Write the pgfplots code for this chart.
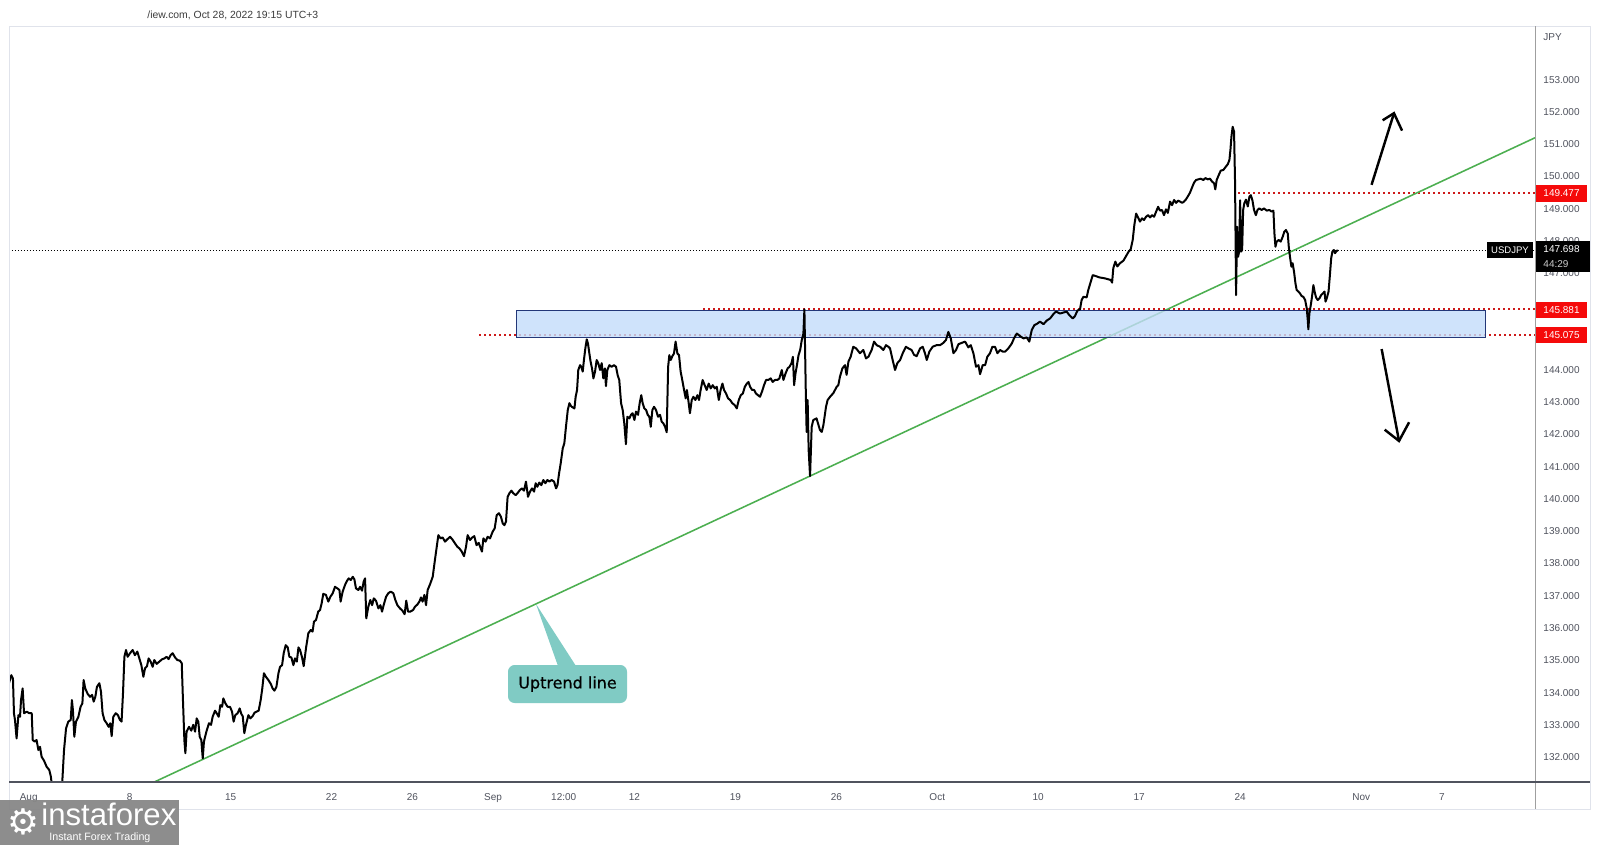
\documentclass[border=0pt]{standalone}
\usepackage{fontspec}
\setmainfont{Liberation Sans}
\newfontfamily\dejavu{DejaVu Sans}
\newfontfamily\dejavusemi{DejaVu Sans}[FakeBold=0.6]
\usepackage{pgfplots}
\pgfplotsset{compat=1.18}
\definecolor{tvgray}{RGB}{80,83,94}
\definecolor{framegray}{RGB}{224,227,235}
\definecolor{zoneblue}{RGB}{196,220,250}
\definecolor{zoneborder}{RGB}{35,55,120}
\definecolor{lvlred}{RGB}{205,25,25}
\definecolor{tagred}{RGB}{245,10,10}
\definecolor{trendgreen}{RGB}{76,175,80}
\definecolor{callout}{RGB}{128,203,196}
\definecolor{logogray}{RGB}{135,135,135}
\definecolor{toptext}{RGB}{60,60,60}
\begin{document}
\begin{tikzpicture}
\begin{scope}[x=0.45pt,y=-0.45pt]
\path[use as bounding box, fill=white] (0,0) rectangle (1600,845);
\end{scope}
\begin{axis}[
  at={(4.05pt,-351.9pt)}, anchor=south west,
  scale only axis, width=686.7pt, height=340.2pt,
  xmin=-0.9757, xmax=74.606, ymin=131.228, ymax=154.663,
  axis line style={draw=none},
  major tick length=0pt,
  scaled y ticks=false,
  ytick={132,133,134,135,136,137,138,139,140,141,142,143,144,147,148,149,150,151,152,153},
  ytick pos=right, yticklabel pos=right,
  y tick label style={anchor=west, inner sep=0pt, xshift=3.6pt, font=\fontsize{4.5}{5}\selectfont, text=tvgray,
     /pgf/number format/.cd, fixed, fixed zerofill, precision=3, 1000 sep={}, assume math mode=true, /tikz/.cd},
  xtick={0,5,10,15,19,23,26.5,30,35,40,45,50,55,60,66,70},
  xticklabels={Aug,8,15,22,26,Sep,12:00,12,19,26,Oct,10,17,24,Nov,7},
  x tick label style={anchor=base, inner sep=0pt, yshift=-8.1pt, font=\fontsize{4.5}{5}\selectfont, text=tvgray},
  clip=true,
]
% last price dotted line
\addplot[black, line width=0.45pt, dash pattern=on 0.45pt off 0.9pt] coordinates {(-0.98,147.698) (74.61,147.698)};
% red dotted levels
\addplot[lvlred, line width=0.9pt, dash pattern=on 0.9pt off 1.35pt] coordinates {(59.91,149.477) (74.61,149.477)};
\addplot[lvlred, line width=0.9pt, dash pattern=on 0.9pt off 1.35pt] coordinates {(33.41,145.881) (74.61,145.881)};
\addplot[lvlred, line width=0.9pt, dash pattern=on 0.9pt off 1.35pt] coordinates {(22.32,145.075) (74.61,145.075)};
% uptrend line
\addplot[trendgreen, line width=0.7pt] coordinates {(6.22,131.228) (74.61,151.20)};
% zone
\addplot[draw=zoneborder, line width=0.45pt, fill=zoneblue, fill opacity=0.8] coordinates {(24.14,145.0) (72.13,145.0) (72.13,145.85) (24.14,145.85)} -- cycle;
% price
\addplot[black, line width=0.9pt, line join=round] coordinates {
(-0.98,134.29) (-0.86,134.54) (-0.78,134.44) (-0.73,133.36) (-0.68,133.15) (-0.60,132.58) (-0.51,133.30) (-0.43,133.25) (-0.38,133.77) (-0.30,134.13) (-0.23,133.36) (-0.10,133.41) (0.03,133.36) (0.15,133.36) (0.20,132.53) (0.30,132.48) (0.39,132.53) (0.48,132.22) (0.56,132.32) (0.64,132.01) (0.76,131.89) (0.89,131.70) (1.02,131.60) (1.10,131.39) (1.19,130.87) (1.40,130.45) (1.66,131.20) (1.75,132.22) (1.85,132.89) (1.96,133.10) (2.08,133.15) (2.14,133.77) (2.19,133.46) (2.26,132.63) (2.34,133.10) (2.46,133.25) (2.57,133.56) (2.66,133.67) (2.72,134.39) (2.80,134.13) (2.92,133.96) (3.04,133.87) (3.14,133.93) (3.22,133.72) (3.30,133.87) (3.38,134.18) (3.50,134.29) (3.58,134.03) (3.66,133.36) (3.75,133.15) (3.86,133.05) (3.96,132.94) (4.04,133.05) (4.11,132.65) (4.19,133.25) (4.31,133.36) (4.42,133.30) (4.52,133.15) (4.60,133.10) (4.67,133.97) (4.74,135.11) (4.82,135.32) (4.90,135.11) (5.02,135.22) (5.15,135.32) (5.26,135.16) (5.38,135.27) (5.48,135.06) (5.58,134.85) (5.68,134.49) (5.76,134.75) (5.86,134.82) (5.94,135.06) (6.04,134.96) (6.14,134.80) (6.22,135.01) (6.34,134.89) (6.47,134.96) (6.60,135.03) (6.72,135.06) (6.83,135.11) (6.93,135.04) (7.03,135.16) (7.13,135.22) (7.25,135.09) (7.36,135.01) (7.49,134.99) (7.58,134.91) (7.64,133.77) (7.71,132.53) (7.76,132.12) (7.82,132.79) (7.94,132.94) (8.05,132.82) (8.15,133.00) (8.24,132.79) (8.32,133.20) (8.40,133.10) (8.47,132.63) (8.55,132.53) (8.62,131.96) (8.68,132.48) (8.80,132.79) (8.93,133.05) (9.03,133.00) (9.11,133.25) (9.23,133.44) (9.33,133.34) (9.41,133.25) (9.49,133.61) (9.58,133.56) (9.64,133.82) (9.74,133.67) (9.85,133.56) (9.97,133.56) (10.07,133.41) (10.15,133.10) (10.23,133.30) (10.35,133.36) (10.45,133.51) (10.53,133.34) (10.60,133.27) (10.68,132.74) (10.76,133.00) (10.88,133.30) (10.98,133.20) (11.09,133.27) (11.19,133.38) (11.29,133.41) (11.39,133.44) (11.49,133.77) (11.57,134.13) (11.65,134.60) (11.75,134.49) (11.87,134.39) (11.99,134.27) (12.08,134.13) (12.17,134.06) (12.27,134.18) (12.37,134.60) (12.45,134.80) (12.55,134.85) (12.63,135.22) (12.73,135.47) (12.83,135.40) (12.91,135.11) (13.01,135.09) (13.11,134.85) (13.19,135.06) (13.28,134.96) (13.36,135.40) (13.44,135.32) (13.54,135.09) (13.62,134.82) (13.74,135.40) (13.85,135.84) (13.97,135.94) (14.06,135.89) (14.13,136.20) (14.23,136.25) (14.34,136.51) (14.43,136.56) (14.51,136.77) (14.59,137.06) (14.72,137.03) (14.84,136.82) (14.94,136.97) (15.06,137.08) (15.17,137.28) (15.29,137.23) (15.39,137.18) (15.45,136.82) (15.55,137.13) (15.67,137.34) (15.77,137.47) (15.85,137.54) (15.95,137.49) (16.05,137.59) (16.13,137.51) (16.21,137.23) (16.33,137.18) (16.41,137.28) (16.51,137.16) (16.59,137.44) (16.66,137.54) (16.72,136.30) (16.82,136.66) (16.92,136.87) (17.01,136.71) (17.09,136.92) (17.20,136.85) (17.32,136.61) (17.42,136.71) (17.50,136.51) (17.58,136.71) (17.70,136.97) (17.81,137.08) (17.93,137.13) (18.06,137.08) (18.16,136.87) (18.26,136.71) (18.39,136.61) (18.51,136.54) (18.62,136.43) (18.70,136.85) (18.79,136.51) (18.90,136.51) (19.04,136.56) (19.13,136.66) (19.25,136.73) (19.35,136.82) (19.43,136.95) (19.51,136.82) (19.60,137.03) (19.68,136.71) (19.76,137.18) (19.88,137.36) (20.01,137.59) (20.12,138.11) (20.21,138.52)
(20.29,138.88) (20.40,138.78) (20.50,138.81) (20.62,138.68) (20.73,138.75) (20.87,138.83) (20.98,138.75) (21.11,138.63) (21.23,138.52) (21.33,138.47) (21.45,138.37) (21.56,138.23) (21.66,138.52) (21.74,138.88) (21.86,138.73) (21.97,138.81) (22.07,138.85) (22.18,138.57) (22.29,138.64) (22.39,138.47) (22.45,138.37) (22.52,138.78) (22.63,138.68) (22.73,138.83) (22.85,138.78) (22.98,138.99) (23.08,139.09) (23.18,139.50) (23.29,139.56) (23.39,139.45) (23.48,139.24) (23.56,139.19) (23.64,139.30) (23.72,140.07) (23.81,140.18) (23.91,140.26) (24.00,140.18) (24.12,140.12) (24.22,140.19) (24.33,140.28) (24.43,140.33) (24.53,140.26) (24.63,140.54) (24.73,140.07) (24.83,140.23) (24.93,140.33) (25.03,140.23) (25.11,140.49) (25.19,140.38) (25.29,140.51) (25.39,140.43) (25.49,140.59) (25.59,140.49) (25.69,140.59) (25.79,140.54) (25.90,140.59) (26.02,140.54) (26.12,140.33) (26.19,140.43) (26.27,140.80) (26.35,141.11) (26.45,141.57) (26.53,141.73) (26.61,142.24) (26.70,142.76) (26.78,142.97) (26.86,142.88) (26.94,142.84) (27.03,142.81) (27.09,143.17) (27.16,143.38) (27.22,144.00) (27.31,144.15) (27.37,144.10) (27.44,143.95) (27.50,144.31) (27.57,144.67) (27.64,144.95) (27.70,144.82) (27.77,144.51) (27.83,144.26) (27.90,144.05) (27.97,143.74) (28.05,143.95) (28.13,144.31) (28.21,144.21) (28.30,144.00) (28.38,144.21) (28.46,143.74) (28.54,144.05) (28.59,143.50) (28.66,144.00) (28.76,144.15) (28.87,144.10) (28.99,144.15) (29.09,144.10) (29.17,143.84) (29.25,143.69) (29.34,142.97) (29.42,142.76) (29.50,142.34) (29.58,141.70) (29.65,142.55) (29.75,142.50) (29.83,142.61) (29.91,142.66) (30.00,142.45) (30.08,142.71) (30.18,142.61) (30.26,142.97) (30.34,143.22) (30.41,142.97) (30.49,142.81) (30.58,142.76) (30.66,142.61) (30.74,142.55) (30.81,142.24) (30.89,142.76) (30.97,142.86) (31.07,142.76) (31.17,142.55) (31.27,142.61) (31.35,142.40) (31.43,142.35) (31.52,142.24) (31.60,142.07) (31.67,144.10) (31.73,144.46) (31.80,144.31) (31.88,144.43) (31.96,144.51) (32.04,144.88) (32.13,144.51) (32.21,144.46) (32.29,143.95) (32.37,143.69) (32.46,143.38) (32.54,143.12) (32.60,143.38) (32.69,142.97) (32.75,142.66) (32.84,143.07) (32.92,143.17) (33.02,143.07) (33.12,143.22) (33.20,143.07) (33.28,143.38) (33.38,143.69) (33.48,143.53) (33.58,143.38) (33.68,143.58) (33.78,143.43) (33.88,143.53) (33.98,143.43) (34.08,143.48) (34.18,143.07) (34.27,143.38) (34.36,143.58) (34.44,143.38) (34.54,143.27) (34.64,143.12) (34.74,143.07) (34.85,142.97) (34.97,142.91) (35.07,142.81) (35.17,143.07) (35.27,143.22) (35.37,143.27) (35.47,143.48) (35.57,143.58) (35.65,143.63) (35.73,143.48) (35.83,143.38) (35.93,143.38) (36.02,143.27) (36.12,143.22) (36.22,143.17) (36.32,143.33) (36.42,143.53) (36.52,143.69) (36.63,143.69) (36.75,143.74) (36.85,143.63) (36.96,143.69) (37.08,143.69) (37.18,143.74) (37.30,144.00) (37.38,143.69) (37.49,143.90) (37.59,144.05) (37.68,144.10) (37.78,144.21) (37.85,144.41) (37.91,143.53) (37.98,143.90) (38.05,144.15) (38.13,144.46) (38.21,144.62) (38.29,144.93) (38.37,145.13) (38.42,145.88) (38.49,143.27) (38.53,142.08) (38.58,143.07) (38.63,141.52) (38.70,140.71)
(38.78,142.24) (38.86,142.45) (39.02,142.50) (39.19,142.14) (39.28,142.08) (39.36,142.29) (39.49,142.86) (39.57,143.07) (39.69,143.17) (39.85,143.28) (40.02,143.48) (40.10,143.53) (40.18,143.79) (40.30,144.05) (40.43,144.15) (40.51,143.85) (40.60,144.26) (40.71,144.41) (40.84,144.72) (40.98,144.67) (41.17,144.52) (41.34,144.62) (41.47,144.36) (41.59,144.41) (41.75,144.62) (41.87,144.88) (42.00,144.77) (42.17,144.72) (42.33,144.62) (42.46,144.77) (42.58,144.72) (42.66,144.67) (42.79,144.31) (42.91,144.00) (43.02,144.21) (43.16,144.31) (43.29,144.52) (43.45,144.72) (43.57,144.67) (43.73,144.62) (43.85,144.47) (43.98,144.43) (44.15,144.67) (44.28,144.72) (44.39,144.52) (44.48,144.31) (44.61,144.57) (44.77,144.72) (44.97,144.77) (45.14,144.77) (45.30,144.84) (45.43,144.93) (45.55,145.18) (45.67,144.98) (45.80,144.52) (45.93,144.62) (46.05,144.80) (46.21,144.84) (46.38,144.88) (46.54,144.70) (46.66,144.77) (46.79,144.52) (46.92,144.10) (47.04,144.15) (47.12,143.87) (47.25,144.15) (47.37,144.15) (47.48,144.41) (47.61,144.52) (47.73,144.72) (47.86,144.72) (47.98,144.52) (48.11,144.62) (48.24,144.57) (48.36,144.57) (48.52,144.67) (48.69,144.82) (48.80,144.98) (48.94,145.13) (49.10,145.05) (49.27,144.98) (49.43,145.01) (49.56,144.88) (49.68,145.24) (49.81,145.39) (49.96,145.44) (50.09,145.50) (50.26,145.42) (50.42,145.53) (50.59,145.60) (50.75,145.73) (50.88,145.81) (51.08,145.75) (51.24,145.78) (51.41,145.81) (51.54,145.70) (51.71,145.60) (51.82,145.67) (51.94,145.84) (52.07,145.88) (52.15,146.17) (52.24,146.27) (52.40,146.25) (52.48,146.48) (52.60,146.73) (52.70,146.94) (52.86,146.91) (53.03,146.87)
(53.31,146.84) (53.59,146.79) (53.66,146.71) (53.72,147.16) (53.82,147.36) (53.92,147.21) (54.05,147.31) (54.22,147.39) (54.35,147.53) (54.48,147.67) (54.58,147.74) (54.68,148.03) (54.76,148.49) (54.85,148.85) (54.93,148.75) (55.04,148.60) (55.14,148.70) (55.24,148.65) (55.34,148.75) (55.44,148.80) (55.54,148.73) (55.64,148.80) (55.74,148.75) (55.84,148.91) (55.94,149.06) (56.03,148.94) (56.13,148.96) (56.23,148.80) (56.33,148.98) (56.42,148.87) (56.53,149.22) (56.63,149.11) (56.73,149.27) (56.83,149.18) (56.93,149.25) (57.03,149.22) (57.13,149.18) (57.22,149.22) (57.32,149.29) (57.42,149.39) (57.52,149.50) (57.62,149.66) (57.72,149.81) (57.82,149.89) (57.93,149.91) (58.05,149.93) (58.18,149.89) (58.28,149.95) (58.39,149.91) (58.51,149.93) (58.61,149.84) (58.71,149.79) (58.77,149.60) (58.84,149.89) (58.94,150.04) (59.04,150.18) (59.17,150.20) (59.29,150.30) (59.39,150.38) (59.47,150.51) (59.52,150.82) (59.57,151.23)
(59.63,151.54) (59.70,151.39) (59.75,149.79) (59.80,146.32) (59.85,148.44) (59.90,147.51) (59.95,147.67) (60.00,149.26) (60.05,147.67) (60.10,147.72) (60.15,148.96) (60.21,149.17) (60.29,149.28) (60.38,149.07) (60.46,149.37) (60.53,149.42) (60.61,149.26) (60.69,148.96) (60.78,148.80) (60.86,148.96) (60.95,149.01) (61.07,148.96) (61.18,149.01) (61.32,148.94) (61.45,148.96) (61.56,148.91) (61.65,148.94) (61.70,148.23) (61.75,147.82) (61.81,147.98) (61.91,148.03) (62.01,147.98) (62.11,148.13) (62.19,148.29) (62.27,148.34) (62.36,148.23) (62.41,147.82) (62.47,147.51) (62.54,147.20) (62.60,147.31) (62.67,147.05) (62.74,146.69) (62.80,146.48) (62.89,146.43) (62.97,146.37) (63.05,146.29) (63.13,146.27) (63.22,146.17) (63.30,145.91) (63.35,145.55) (63.38,145.26) (63.43,145.75) (63.50,146.01) (63.56,146.27) (63.63,146.63) (63.69,146.43) (63.76,146.25) (63.84,146.17) (63.93,146.22) (64.01,146.32) (64.09,146.37) (64.18,146.43) (64.23,146.12) (64.29,146.22) (64.38,146.43) (64.44,146.89) (64.51,147.46) (64.57,147.67) (64.64,147.72) (64.70,147.62) (64.79,147.70) (64.85,147.70)
};
% arrows
\addplot[black, line width=1.1pt] coordinates {(66.51,149.74) (67.62,151.96)};
\addplot[black, line width=1.1pt, line join=miter] coordinates {(67.06,151.74) (67.62,151.96) (68.02,151.42)};
\addplot[black, line width=1.1pt] coordinates {(67.01,144.65) (67.87,141.80)};
\addplot[black, line width=1.1pt, line join=miter] coordinates {(67.16,142.15) (67.87,141.80) (68.37,142.38)};
\end{axis}
\begin{scope}[x=0.45pt,y=-0.45pt]
% callout
\fill[callout] (536,604) -- (558,666) -- (576,666) -- cycle;
\fill[callout, rounded corners=3pt] (508,665) rectangle (627,703);
\node[font=\dejavusemi\fontsize{7.2}{8}\selectfont, text=black] at (567.5,684) {Uptrend line};
% frame
\draw[framegray, line width=0.45pt] (9,26) rectangle (1590,809);
\draw[gray!75, line width=0.45pt] (1535,26) -- (1535,809);
\draw[tvgray, line width=0.6pt] (9,782) -- (1590,782);
% scale tags
\node[anchor=west, inner sep=0pt, text=tvgray, font=\fontsize{4.5}{5}\selectfont] at (1543,37) {JPY};
\fill[tagred] (1536,185) rectangle (1587,202);
\node[anchor=west, inner sep=0pt, text=white, font=\fontsize{4.5}{5}\selectfont] at (1543,193.4) {149.477};
\fill[tagred] (1536,301.5) rectangle (1587,318);
\node[anchor=west, inner sep=0pt, text=white, font=\fontsize{4.5}{5}\selectfont] at (1543,309.7) {145.881};
\fill[tagred] (1536,326.8) rectangle (1587,343.3);
\node[anchor=west, inner sep=0pt, text=white, font=\fontsize{4.5}{5}\selectfont] at (1543,335) {145.075};
\fill[black] (1536,241) rectangle (1590,272);
\node[anchor=west, inner sep=0pt, text=white, font=\fontsize{4.5}{5}\selectfont] at (1543,249.5) {147.698};
\node[anchor=west, inner sep=0pt, text=white!80!black, font=\fontsize{4.5}{5}\selectfont] at (1543,264.5) {44:29};
\fill[black] (1487,242) rectangle (1533,258);
\node[inner sep=0pt, text=white, font=\fontsize{4.3}{5}\selectfont] at (1510,250) {USDJPY};
% top text
\node[anchor=west, inner sep=0pt, text=toptext, font=\fontsize{4.68}{5}\selectfont] at (147,15) {/iew.com, Oct 28, 2022 19:15 UTC+3};
% logo
\fill[logogray, fill opacity=0.95] (0,800) rectangle (178.6,845);
\node[inner sep=0pt, text=white, font=\dejavu\fontsize{16}{16}\selectfont] at (23,822) {⚙};
\node[anchor=base west, inner sep=0pt, text=white, font=\fontsize{14}{15}\selectfont] at (41,825) {instaforex};
\node[anchor=base west, inner sep=0pt, text=white, font=\fontsize{4.8}{5}\selectfont] at (49,840) {Instant Forex Trading};
\end{scope}
\end{tikzpicture}
\end{document}
